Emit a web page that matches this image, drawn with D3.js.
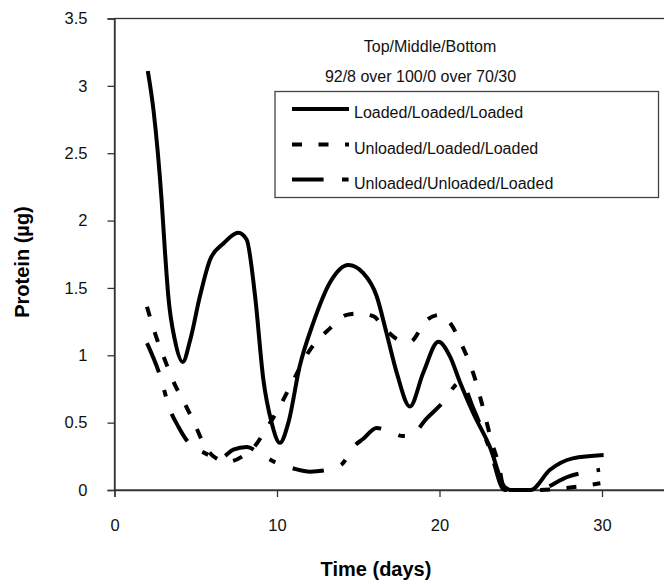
<!DOCTYPE html>
<html>
<head>
<meta charset="utf-8">
<script src="https://cdn.jsdelivr.net/npm/d3@7"></script>
<style>
  body { margin: 0; background: #fff; }
  svg { display: block; font-family: "Liberation Sans", Arial, sans-serif; }
</style>
</head>
<body>
<script>
// values: [day, protein ug]
const loadedAll = [[2.05,3.11],[2.4,2.82],[2.9,2.15],[3.1,1.78],[3.31,1.44],[3.72,1.11],[4.2,0.95],[4.65,1.11],
  [5.26,1.44],[5.88,1.71],[6.7,1.83],[7.62,1.91],[8.13,1.86],[8.65,1.44],[9.16,0.82],[9.67,0.5],[10.18,0.35],
  [10.7,0.5],[11.4,0.92],[12.23,1.24],[13.26,1.54],[14.39,1.67],[15.31,1.61],[16.13,1.44],[16.75,1.16],
  [17.37,0.87],[18.18,0.62],[19.0,0.87],[19.93,1.1],[20.65,0.99],[21.26,0.8],[22.08,0.57],[23.1,0.32],
  [24.03,0.02],[24.4,0],[25.6,0],[26.8,0.15],[28.2,0.235],[30.1,0.26]]
const unloadedTop = [[2.0,1.36],[2.5,1.16],[3.1,0.965],[3.72,0.78],[4.2,0.67],[4.9,0.5],[5.5,0.34],[6.2,0.24],
  [7.0,0.21],[8.0,0.26],[8.6,0.32],[9.26,0.44],[10.08,0.6],[10.9,0.79],[12.03,1.04],[13.26,1.2],[14.29,1.3],
  [15.0,1.31],[15.93,1.29],[16.54,1.21],[17.57,1.11],[18.18,1.1],[19.2,1.26],[20.03,1.3],[20.65,1.24],
  [21.28,1.1],[22.2,0.82],[22.72,0.59],[23.23,0.35],[23.64,0.19],[24.0,0],[26.0,0],[28.15,0.02],[29.9,0.05]]
const unloadedTwo = [[2.0,1.09],[2.8,0.85],[3.4,0.6],[3.93,0.47],[4.5,0.36],[5.46,0.28],[6.49,0.235],[7.31,0.3],
  [8.13,0.32],[8.95,0.27],[9.98,0.2],[11.0,0.16],[12.03,0.136],[13.06,0.148],[13.98,0.19],[14.7,0.32],
  [15.31,0.38],[16.13,0.46],[16.75,0.445],[17.77,0.4],[18.18,0.4],[19.2,0.53],[20.14,0.64],[21.3,0.8],
  [22.1,0.6],[23.1,0.3],[24.0,0],[26.0,0],[27.93,0.1],[29.88,0.15]]

const seriesNames = ['Loaded/Loaded/Loaded', 'Unloaded/Loaded/Loaded', 'Unloaded/Unloaded/Loaded']
const dashes = [null, '10,16.5', '31.6,18.4,6.6,18.4']
const xTicks = [0, 10, 20, 30]
const yTicks = [0, 0.5, 1, 1.5, 2, 2.5, 3, 3.5]
const headerLines = ['Top/Middle/Bottom', '92/8 over 100/0 over 70/30']

const W = 664, H = 585
const svg = d3.select('body').append('svg').attr('width', W).attr('height', H)

const x = d3.scaleLinear().domain([0, 35]).range([114.5, 683.25])
const y = d3.scaleLinear().domain([0, 3.5]).range([490, 18.5])
const axisColor = '#333'

// plot frame (right side falls outside the picture)
svg.append('rect')
  .attr('x', x(0)).attr('y', y(3.5))
  .attr('width', x(35) - x(0)).attr('height', y(0) - y(3.5))
  .attr('fill', 'none').attr('stroke', axisColor).attr('stroke-width', 1.3)

const xAxis = svg.append('g').attr('transform', `translate(0,${y(0)})`)
  .call(d3.axisBottom(x).tickValues(xTicks).tickSize(7).tickPadding(22).tickFormat(d3.format('d')))
const yAxis = svg.append('g').attr('transform', `translate(${x(0)},0)`)
  .call(d3.axisLeft(y).tickValues(yTicks).tickSize(7).tickPadding(20).tickFormat(d => d))
;[xAxis, yAxis].forEach(g => {
  g.select('.domain').attr('stroke', axisColor).attr('stroke-width', 1.3)
  g.selectAll('.tick line').attr('stroke', axisColor).attr('stroke-width', 1.3)
  g.selectAll('.tick text').attr('fill', '#111').attr('font-size', 16.5)
    .attr('font-family', '"Liberation Sans", Arial, sans-serif')
})
xAxis.selectAll('.tick text').attr('dy', '0.71em')

svg.append('text').attr('x', 376).attr('y', 576).attr('text-anchor', 'middle')
  .attr('font-size', 20).attr('font-weight', 'bold').text('Time (days)')
svg.append('text').attr('transform', 'translate(29,262) rotate(-90)').attr('text-anchor', 'middle')
  .attr('font-size', 20).attr('font-weight', 'bold').text('Protein (µg)')

const line = d3.line().x(d => x(d[0])).y(d => y(d[1])).curve(d3.curveMonotoneX)
;[loadedAll, unloadedTop, unloadedTwo].forEach((data, i) => {
  svg.append('path').datum(data)
    .attr('d', line)
    .attr('fill', 'none').attr('stroke', '#000').attr('stroke-width', 4)
    .attr('stroke-dasharray', dashes[i])
})

// legend
svg.selectAll('.hdr').data(headerLines).join('text')
  .attr('x', (d, i) => i ? 420.5 : 430).attr('y', (d, i) => i ? 82 : 52)
  .attr('text-anchor', 'middle').attr('font-size', 16).attr('fill', '#111').text(d => d)

svg.append('rect').attr('x', 275).attr('y', 91.5).attr('width', 383.5).attr('height', 106)
  .attr('fill', '#fff').attr('stroke', '#444').attr('stroke-width', 1.3)

const legendY = [109, 144.5, 179.5]
seriesNames.forEach((name, i) => {
  svg.append('line').attr('x1', 292).attr('x2', 349).attr('y1', legendY[i]).attr('y2', legendY[i])
    .attr('stroke', '#000').attr('stroke-width', 4).attr('stroke-dasharray', dashes[i])
  svg.append('text').attr('x', 354).attr('y', legendY[i] + 9).attr('font-size', 16)
    .attr('fill', '#111').text(name)
})
</script>
</body>
</html>
